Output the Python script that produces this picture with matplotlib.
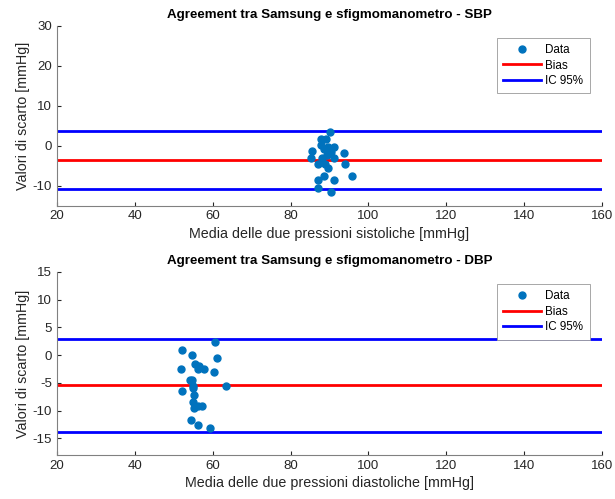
import matplotlib
matplotlib.use("Agg")
import matplotlib.pyplot as plt

# Bland-Altman style agreement plots, Samsung vs sfigmomanometro

# SBP: media delle due misure, differenza
sbp_mean = [90.1, 87.9, 89.1, 87.9, 88.5, 89.7, 91.1, 85.6, 90.4, 93.7, 85.2, 88.1,
            89.3, 91.2, 87.1, 88.8, 94.1, 89.6, 95.8, 88.5, 87.1, 91.2, 87.1, 90.4]
sbp_diff = [3.4, 1.7, 1.7, 0.15, -0.8, -0.2, -0.3, -1.4, -1.6, -1.9, -3.0, -3.0,
            -2.4, -3.0, -4.5, -4.6, -4.5, -5.6, -7.6, -7.5, -8.5, -8.5, -10.6, -11.5]
sbp_bias = -3.5
sbp_ic = [3.8, -10.8]

# DBP
dbp_mean = [52.1, 60.6, 54.8, 61.0, 51.9, 55.4, 56.1, 56.6, 57.8, 60.3, 54.1, 54.8,
            54.9, 63.5, 52.0, 55.0, 55.3, 55.0, 55.3, 56.1, 57.3, 54.5, 56.1, 59.4]
dbp_diff = [1.0, 2.4, 0.0, -0.5, -2.5, -1.5, -2.5, -2.0, -2.5, -3.1, -4.5, -4.5,
            -5.5, -5.5, -6.5, -6.0, -7.1, -8.5, -9.6, -9.1, -9.1, -11.6, -12.6, -13.1]
dbp_bias = -5.4
dbp_ic = [3.0, -13.8]

plt.rcParams['font.family'] = ['Liberation Sans', 'DejaVu Sans']
plt.rcParams['font.size'] = 8
plt.rcParams['axes.unicode_minus'] = False

fig = plt.figure(figsize=(6.15, 4.99), dpi=100)
ax1 = fig.add_axes([0.0927, 0.588, 0.886, 0.36])
ax2 = fig.add_axes([0.0927, 0.088, 0.886, 0.367])

panels = [
    (ax1, sbp_mean, sbp_diff, sbp_bias, sbp_ic, (-15, 30), [-10, 0, 10, 20, 30],
     'Agreement tra Samsung e sfigmomanometro - SBP',
     'Media delle due pressioni sistoliche [mmHg]'),
    (ax2, dbp_mean, dbp_diff, dbp_bias, dbp_ic, (-18, 15), [-15, -10, -5, 0, 5, 10, 15],
     'Agreement tra Samsung e sfigmomanometro - DBP',
     'Media delle due pressioni diastoliche [mmHg]'),
]

for ax, xm, yd, bias, ic, ylim, yt, title, xlabel in panels:
    ax.plot(xm, yd, 'o', color=(0, 0.447, 0.741), markersize=5, label='Data', zorder=3)
    ax.axhline(bias, color='r', linewidth=2, label='Bias')
    ax.axhline(ic[0], color='b', linewidth=2, label='IC 95%')
    ax.axhline(ic[1], color='b', linewidth=2)
    ax.set_xlim(20, 160)
    ax.set_ylim(*ylim)
    ax.set_yticks(yt)
    ax.set_xticks(range(20, 161, 20))
    ax.set_title(title, fontsize=9.6, fontweight='bold', pad=6)
    ax.set_xlabel(xlabel, fontsize=10.3, color='0.15', labelpad=3)
    ax.set_ylabel('Valori di scarto [mmHg]', fontsize=10.3, color='0.15', labelpad=2)
    for s in ['top', 'right']:
        ax.spines[s].set_visible(False)
    for s in ['left', 'bottom']:
        ax.spines[s].set_color('0.5')
    ax.tick_params(direction='in', colors='0.15', labelsize=9.5, length=3)
    leg = ax.legend(loc='upper right', bbox_to_anchor=(0.978, 0.935), fontsize=8.4,
                    fancybox=False, framealpha=1, edgecolor='0.6', borderpad=0.55,
                    handlelength=3.2, handletextpad=0.4, borderaxespad=0,
                    labelspacing=0.3)
    leg.get_frame().set_linewidth(0.6)

plt.savefig('out.png', dpi=100)
